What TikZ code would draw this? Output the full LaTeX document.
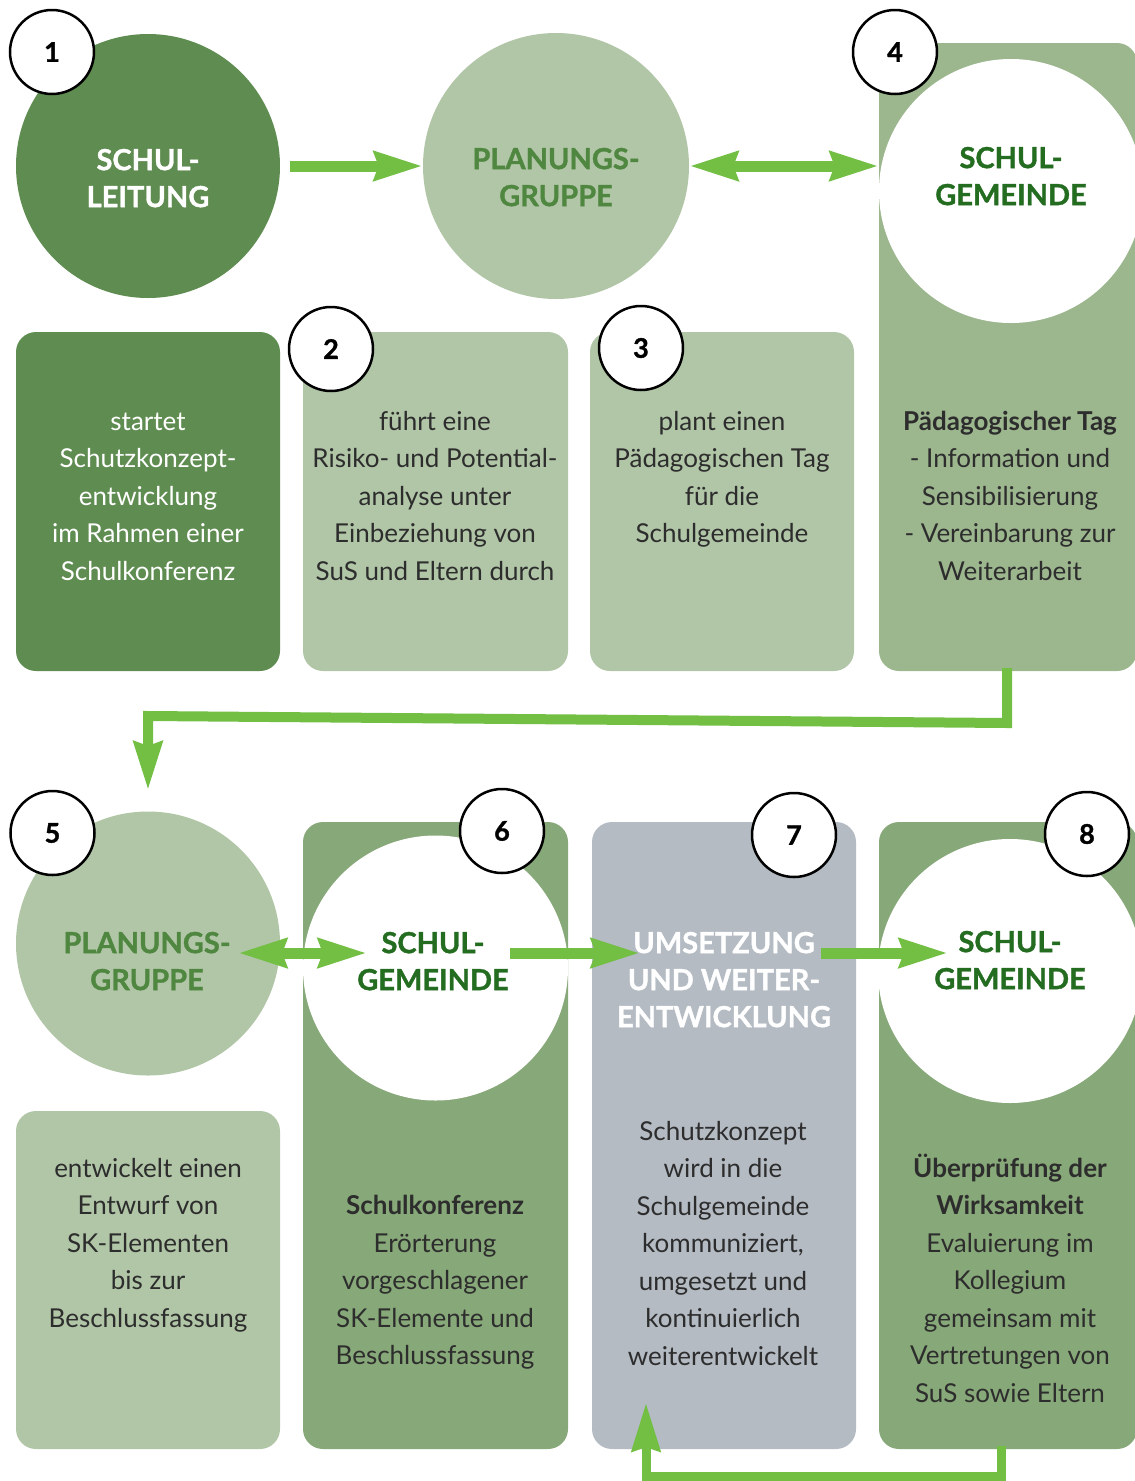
\documentclass[tikz,border=0pt]{standalone}
\usepackage{fontspec}
\setmainfont{Lato}
\newfontfamily\titlefont[BoldFeatures={FakeBold=1.2}]{Lato}
\usetikzlibrary{arrows.meta}
\definecolor{darkgreen}{HTML}{5F8C50}
\definecolor{lightgreen}{HTML}{B1C6A7}
\definecolor{boxfourgreen}{HTML}{9CB68E}
\definecolor{midgreen}{HTML}{87A878}
\definecolor{greybox}{HTML}{B4BBC3}
\definecolor{arrowgreen}{HTML}{72BF44}
\definecolor{titlegreen}{HTML}{236C20}
\definecolor{plangreen}{HTML}{4F8740}
\definecolor{bodygray}{HTML}{2D2D2D}
\tikzset{
  panel/.style={rectangle, rounded corners=20pt, inner sep=0pt, draw=none},
  bigdisc/.style={circle, inner sep=0pt, draw=none, minimum size=264pt},
  numdisc/.style={circle, draw=black, line width=2.5pt, fill=white, minimum size=84pt, inner sep=0pt,
    font=\titlefont\bfseries\fontsize{27}{27}\selectfont, text=black},
  titletext/.style={anchor=north, align=center, inner sep=0pt,
    font=\titlefont\bfseries\fontsize{29}{37}\selectfont},
  bodytext/.style={anchor=north, align=center, inner sep=0pt, text=bodygray,
    font=\fontsize{26}{37.5}\selectfont},
  arr/.style={draw=arrowgreen, line width=11pt, -{Stealth[length=48pt, width=28pt, inset=4pt]}},
  darr/.style={draw=arrowgreen, line width=11pt, {Stealth[length=48pt, width=28pt, inset=4pt]}-{Stealth[length=48pt, width=28pt, inset=4pt]}},
  conn/.style={draw=arrowgreen, line width=10pt, line join=miter, -{Stealth[length=48pt, width=28pt, inset=4pt]}}
}
\begin{document}
\begin{tikzpicture}[x=1pt, y=-1pt]
\useasboundingbox (0,0) rectangle (1135,1481);

% ---------- top row ----------
\node[panel, fill=boxfourgreen, minimum width=258pt, minimum height=628pt] (b4) at (1008,357) {};
\node[bigdisc, fill=darkgreen] (c1) at (148,166) {};
\node[bigdisc, fill=lightgreen, minimum size=266pt] (c2) at (556,166) {};
\node[bigdisc, fill=white] (c4) at (1011,191) {};

\node[panel, fill=darkgreen, minimum width=264pt, minimum height=339pt] (bA) at (148,501.5) {};
\node[panel, fill=lightgreen, minimum width=265pt, minimum height=339pt] (b2) at (435.5,501.5) {};
\node[panel, fill=lightgreen, minimum width=264pt, minimum height=339pt] (b3) at (722,501.5) {};

\node[titletext, text=white] (t1) at (148,144) {\strut SCHUL-\\LEITUNG};
\node[titletext, text=plangreen] (t2) at (556,143) {\strut PLANUNGS-\\GRUPPE};
\node[titletext, text=titlegreen] (t4) at (1011,142) {\strut SCHUL-\\GEMEINDE};

\node[bodytext, text=white] (xA) at (148,403.75) {\strut startet\\Schutzkonzept-\\entwicklung\\im Rahmen einer\\Schulkonferenz};
\node[bodytext] (x2) at (435,403.75) {\strut führt eine\\Risiko- und Potential-\\analyse unter\\Einbeziehung von\\SuS und Eltern durch};
\node[bodytext] (x3) at (722,403.75) {\strut plant einen\\Pädagogischen Tag\\für die\\Schulgemeinde};
\node[bodytext] (x4) at (1010,403.75) {\strut\textbf{Pädagogischer Tag}\\- Information und\\Sensibilisierung\\- Vereinbarung zur\\Weiterarbeit};

% ---------- bottom row ----------
\node[panel, fill=midgreen, minimum width=265pt, minimum height=627pt] (b6) at (435.5,1135.5) {};
\node[panel, fill=greybox, minimum width=264pt, minimum height=627pt] (b7) at (724,1135.5) {};
\node[panel, fill=midgreen, minimum width=258pt, minimum height=627pt] (b8) at (1008,1135.5) {};
\node[panel, fill=lightgreen, minimum width=264pt, minimum height=338pt] (b5) at (148,1280) {};

\node[bigdisc, fill=lightgreen] (c5) at (148,943.5) {};
\node[bigdisc, fill=white, minimum size=265pt] (c6) at (435.5,968) {};
\node[bigdisc, fill=white] (c8) at (1010,971) {};

\node[titletext, text=plangreen] (t5) at (147,927) {\strut PLANUNGS-\\GRUPPE};
\node[titletext, text=titlegreen] (t6) at (433,927) {\strut SCHUL-\\GEMEINDE};
\node[titletext, text=white] (t7) at (724,927) {\strut UMSETZUNG\\UND WEITER-\\ENTWICKLUNG};
\node[titletext, text=titlegreen] (t8) at (1010,926) {\strut SCHUL-\\GEMEINDE};

\node[bodytext] (x5) at (148,1150.75) {\strut entwickelt einen\\Entwurf von\\SK-Elementen\\bis zur\\Beschlussfassung};
\node[bodytext] (x6) at (435,1188.25) {\strut\textbf{Schulkonferenz}\\Erörterung\\vorgeschlagener\\SK-Elemente und\\Beschlussfassung};
\node[bodytext] (x7) at (723,1113.75) {\strut Schutzkonzept\\wird in die\\Schulgemeinde\\kommuniziert,\\umgesetzt und\\kontinuierlich\\weiterentwickelt};
\node[bodytext] (x8) at (1010,1150.75) {\strut\textbf{Überprüfung der}\\\textbf{Wirksamkeit}\\Evaluierung im\\Kollegium\\gemeinsam mit\\Vertretungen von\\SuS sowie Eltern};

% ---------- connectors ----------
\coordinate (a1s) at (290,166);
\draw[arr] (a1s) -- (c2.west);
\draw[darr] (c2.east) -- (b4.west |- c2.east);

\coordinate (k1) at (1007,668);
\coordinate (k2) at (1007,723);
\coordinate (k3) at (148,716);
\coordinate (k4) at (148,790);
\draw[conn] (k1) -- (k2) -- (k3) -- (k4);

\coordinate (d1) at (238,953);
\coordinate (d2) at (367,953);
\draw[darr] (d1) -- (d2);
\coordinate (e1) at (510,953);
\coordinate (e2) at (640,953);
\draw[arr] (e1) -- (e2);
\coordinate (f1) at (821,953);
\coordinate (f2) at (948,953);
\draw[arr] (f1) -- (f2);

\coordinate (g1) at (1001,1446);
\coordinate (g2) at (1001,1476);
\coordinate (g3) at (646,1476);
\coordinate (g4) at (646,1403);
\draw[conn, line width=9pt] (g1) -- (g2) -- (g3) -- (g4);

% ---------- number discs ----------
\node[numdisc] (n1) at (52,52) {1};
\node[numdisc] (n2) at (331,349) {2};
\node[numdisc] (n3) at (641,348) {3};
\node[numdisc] (n4) at (895,52) {4};
\node[numdisc] (n5) at (52.5,833) {5};
\node[numdisc] (n6) at (502,831) {6};
\node[numdisc] (n7) at (794,835) {7};
\node[numdisc] (n8) at (1087,834) {8};
\end{tikzpicture}
\end{document}
